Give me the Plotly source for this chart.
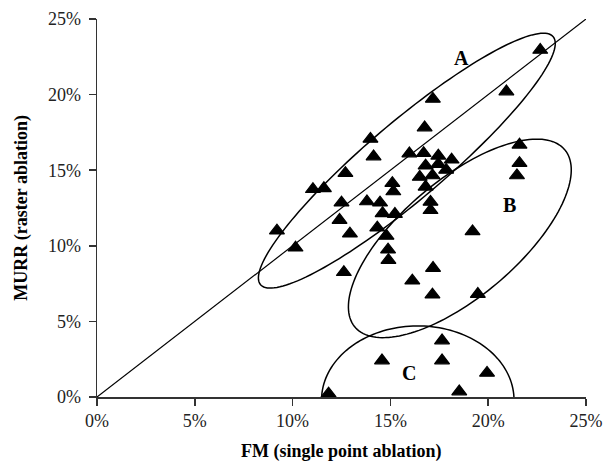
import numpy as np
import plotly.graph_objects as go

# ---- data (percent) ----
fm_single_point = [22.66, 20.93, 17.17, 16.75, 13.98, 14.14, 15.97, 16.70, 17.45, 18.13,
                   16.80, 17.45, 17.85, 16.50, 17.15, 16.80, 15.10, 15.15, 12.70, 11.04,
                   11.60, 13.80, 14.47, 12.50, 14.60, 15.23, 12.40, 17.05, 17.05, 14.33,
                   12.93, 14.80, 14.88, 14.90, 9.20, 10.15, 12.62, 21.60, 21.60, 21.47,
                   19.20, 17.18, 16.12, 17.15, 19.47, 17.64, 14.57, 17.64, 19.94, 11.84,
                   18.52]
murr_raster = [22.95, 20.20, 19.71, 17.82, 17.07, 15.90, 16.10, 16.12, 15.95, 15.69,
               15.30, 15.40, 15.02, 14.55, 14.65, 13.90, 14.14, 13.59, 14.80, 13.74,
               13.80, 12.93, 12.85, 12.85, 12.15, 12.10, 11.70, 12.90, 12.35, 11.20,
               10.80, 10.65, 9.74, 9.05, 11.00, 9.87, 8.25, 16.68, 15.46, 14.65,
               10.95, 8.53, 7.69, 6.77, 6.81, 3.73, 2.41, 2.41, 1.59, 0.22, 0.36]

tick_values = [0, 5, 10, 15, 20, 25]
tick_labels = ["0%", "5%", "10%", "15%", "20%", "25%"]
group_labels = ["A", "B", "C"]
group_label_x = [18.62, 21.08, 15.97]
group_label_y = [22.41, 12.70, 1.60]

# ellipses: centre, semi-axis vector 1, semi-axis vector 2 (data units)
ellipse_centres = [(15.84, 15.63), (18.55, 10.49), (16.40, -0.20)]
ellipse_axis1 = [(7.48, 8.20), (5.36, 5.87), (4.92, 0.0)]
ellipse_axis2 = [(1.28, -1.95), (1.93, -2.94), (0.0, 4.90)]

FONT = "Liberation Serif, Times New Roman, serif"


def ellipse_path(c, u, v, n=160):
    t = np.linspace(0, 2 * np.pi, n)
    xs = c[0] + u[0] * np.cos(t) + v[0] * np.sin(t)
    ys = c[1] + u[1] * np.cos(t) + v[1] * np.sin(t)
    pts = [f"{x:.4f},{y:.4f}" for x, y in zip(xs, ys)]
    return "M " + " L ".join(pts) + " Z"


fig = go.Figure()

# 1:1 line
fig.add_trace(go.Scatter(x=[0, 25], y=[0, 25], mode="lines",
                         line=dict(color="black", width=1.2),
                         hoverinfo="skip", showlegend=False))

fig.add_trace(go.Scatter(x=fm_single_point, y=murr_raster, mode="markers",
                         marker=dict(symbol="triangle-up", size=13, color="black",
                                     line=dict(color="black", width=1.2)),
                         cliponaxis=False, showlegend=False))

shapes = []
for c, u, v in zip(ellipse_centres, ellipse_axis1, ellipse_axis2):
    shapes.append(dict(type="path", xref="x", yref="y", path=ellipse_path(c, u, v),
                       line=dict(color="black", width=1.5), fillcolor="rgba(0,0,0,0)",
                       layer="above"))

annotations = []
for lab, lx, ly in zip(group_labels, group_label_x, group_label_y):
    annotations.append(dict(x=lx, y=ly, xref="x", yref="y", text=f"<b>{lab}</b>",
                            showarrow=False, font=dict(family=FONT, size=20, color="black")))

annotations.append(dict(x=0.5, y=-0.145, xref="paper", yref="paper",
                        text="<b>FM (single point ablation)</b>", showarrow=False,
                        xanchor="center", yanchor="middle",
                        font=dict(family=FONT, size=18, color="black")))
annotations.append(dict(x=-0.156, y=0.5, xref="paper", yref="paper",
                        text="<b>MURR (raster ablation)</b>", showarrow=False,
                        textangle=-90, xanchor="center", yanchor="middle",
                        font=dict(family=FONT, size=18, color="black")))

axis_common = dict(range=[0, 25], tickmode="array", tickvals=tick_values,
                   ticktext=tick_labels, automargin=False,
                   showgrid=False, zeroline=False, showline=True,
                   linecolor="#333333", linewidth=1.5,
                   ticks="outside", ticklen=7, tickwidth=1.5, tickcolor="#333333",
                   tickfont=dict(family=FONT, size=18, color="#222222"),
                   fixedrange=True)

fig.update_layout(
    width=603, height=462,
    margin=dict(l=97, r=17, t=19, b=65, autoexpand=False),
    paper_bgcolor="white", plot_bgcolor="white",
    xaxis=axis_common,
    yaxis=dict(**axis_common, ticklabelstandoff=4),
    shapes=shapes, annotations=annotations,
    showlegend=False,
)

# remove the default page margin so the figure fills the window exactly
fig.write_html("out.html",
               config={"displayModeBar": False, "staticPlot": True},
               post_script="document.body.style.margin='0';"
                           "document.body.style.overflow='hidden';")
